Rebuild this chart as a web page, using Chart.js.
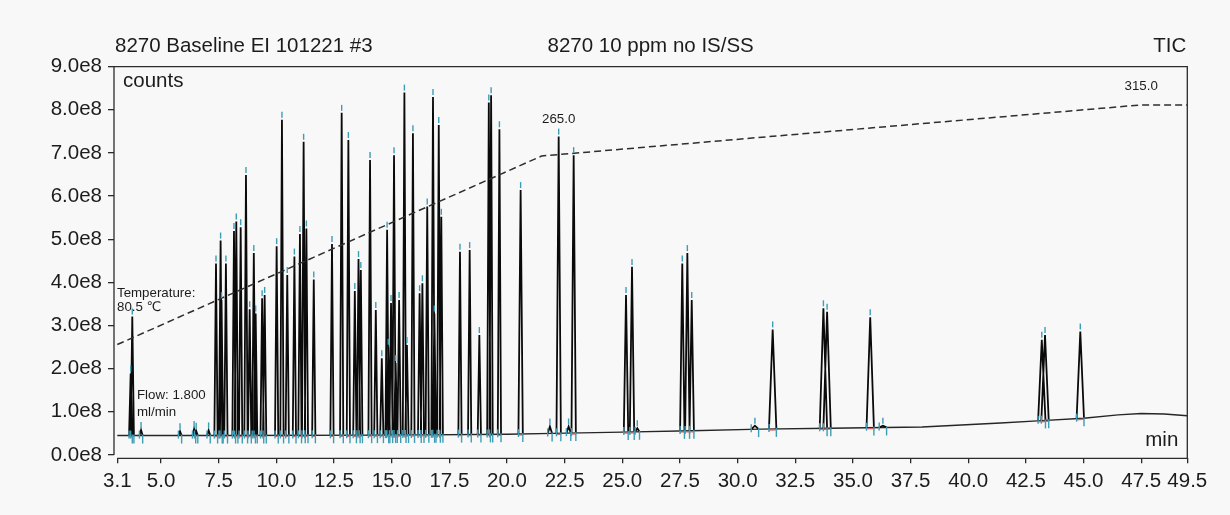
<!DOCTYPE html>
<html><head><meta charset="utf-8">
<script src="https://cdn.jsdelivr.net/npm/chart.js@4.4.1/dist/chart.umd.min.js"></script>
<style>html,body{margin:0;padding:0;background:#f8f8f8;}#wrap{position:relative;width:1230px;height:515px;}</style>
</head><body><div id="wrap"><canvas id="c"></canvas></div>
<script>
// ---------- data ----------
const xTickValues = [3.1,5.0,7.5,10.0,12.5,15.0,17.5,20.0,22.5,25.0,27.5,30.0,32.5,35.0,37.5,40.0,42.5,45.0,47.5,49.5];
const yTickValues = [0,1e8,2e8,3e8,4e8,5e8,6e8,7e8,8e8,9e8];
const peakTimes = [3.68,3.75,4.13,5.82,6.43,6.52,7.06,7.38,7.58,7.62,7.81,8.16,8.26,8.45,8.68,8.84,9.02,9.10,9.38,9.49,10.01,10.24,10.47,10.78,11.02,11.18,11.30,11.62,12.41,12.83,13.12,13.40,13.56,13.66,14.06,14.31,14.57,14.80,14.85,14.97,15.10,15.17,15.32,15.55,15.66,15.92,16.21,16.33,16.54,16.79,16.85,17.04,17.15,17.96,18.38,18.80,19.21,19.31,19.67,20.59,21.86,22.24,22.67,22.89,25.16,25.42,25.65,27.60,27.82,28.01,30.75,31.52,33.72,33.88,35.75,36.30,43.19,43.33,44.86];
const peakCounts = [1.89e8,3.21e8,0.58e8,0.55e8,0.60e8,0.56e8,0.57e8,4.44e8,4.97e8,3.59e8,4.44e8,5.19e8,5.41e8,5.28e8,6.49e8,3.38e8,4.68e8,3.28e8,3.63e8,3.71e8,4.84e8,7.77e8,4.17e8,4.60e8,5.12e8,7.26e8,5.25e8,4.07e8,4.89e8,7.93e8,7.30e8,3.80e8,4.54e8,4.29e8,6.84e8,3.36e8,2.24e8,5.22e8,2.51e8,3.52e8,6.95e8,2.13e8,3.59e8,8.40e8,2.55e8,7.46e8,3.75e8,3.98e8,5.76e8,8.30e8,3.28e8,7.65e8,5.52e8,4.71e8,4.75e8,2.78e8,8.17e8,8.34e8,7.55e8,6.14e8,0.66e8,7.38e8,0.66e8,6.95e8,3.71e8,4.36e8,0.62e8,4.44e8,4.68e8,3.59e8,0.68e8,2.91e8,3.40e8,3.32e8,3.19e8,0.68e8,2.67e8,2.78e8,2.86e8];
const baselineTimes = [3.1,8,15,20,22,25,28,31,34,38,41.4,43,45,46.5,47.5,48.5,49.5];
const baselineCounts = [0.45e8,0.45e8,0.46e8,0.48e8,0.50e8,0.53e8,0.56e8,0.60e8,0.62e8,0.65e8,0.74e8,0.79e8,0.85e8,0.93e8,0.96e8,0.95e8,0.91e8];
const tempTimes = [3.1,21.5,47.5,49.5];
const tempValues = [80.5,265.0,315.0,315.0];
const titleLeft = '8270 Baseline EI 101221 #3';
const titleCenter = '8270 10 ppm no IS/SS';
const titleRight = 'TIC';

// ---------- helpers (style) ----------
const FONT = '"Liberation Sans", Arial, "DejaVu Sans", sans-serif';
const TXT = '#1c1c1c';
function halfWidth(t){ return t < 20 ? 0.07 : (t < 29 ? 0.095 : 0.16); }
function baseAt(t){
  if (t <= baselineTimes[0]) return baselineCounts[0];
  for (let i=1;i<baselineTimes.length;i++){
    if (t <= baselineTimes[i]){
      const f=(t-baselineTimes[i-1])/(baselineTimes[i]-baselineTimes[i-1]);
      return baselineCounts[i-1]+f*(baselineCounts[i]-baselineCounts[i-1]);
    }
  }
  return baselineCounts[baselineCounts.length-1];
}
const peakPoints = [];
peakTimes.forEach((t,i)=>{
  const hw = halfWidth(t);
  peakPoints.push({x:t-hw,y:baseAt(t-hw)},{x:t,y:peakCounts[i]},{x:t+hw,y:baseAt(t+hw)},{x:t+hw,y:null});
});
const baselinePoints = baselineTimes.map((t,i)=>({x:t,y:baselineCounts[i]}));
const tempPoints = tempTimes.map((t,i)=>({x:t,y:tempValues[i]}));

const decor = {
  id:'decor',
  afterDatasetsDraw(chart){
    const {ctx, scales:{x,y}} = chart;
    ctx.save();
    ctx.lineCap='butt';
    ctx.strokeStyle='rgba(226,90,90,0.9)'; ctx.lineWidth=1.3;
    peakTimes.forEach((t,i)=>{
      if (peakCounts[i]-baseAt(t) < 0.3e8) return;
      const hw=halfWidth(t)*1.15;
      ctx.beginPath();
      ctx.moveTo(x.getPixelForValue(t-hw), y.getPixelForValue(baseAt(t-hw))+1);
      ctx.lineTo(x.getPixelForValue(t+hw), y.getPixelForValue(baseAt(t+hw))+1);
      ctx.stroke();
    });
    ctx.strokeStyle='#3c9db5'; ctx.lineWidth=1.4;
    peakTimes.forEach((t,i)=>{
      const hw=halfWidth(t);
      const px=x.getPixelForValue(t), py=y.getPixelForValue(peakCounts[i]);
      ctx.beginPath(); ctx.moveTo(px,py-8); ctx.lineTo(px,py-2); ctx.stroke();
      const xl=x.getPixelForValue(t-hw), yl=y.getPixelForValue(baseAt(t-hw));
      ctx.beginPath(); ctx.moveTo(xl,yl-5); ctx.lineTo(xl,yl+3); ctx.stroke();
      const xr=x.getPixelForValue(t+hw), yr=y.getPixelForValue(baseAt(t+hw));
      ctx.beginPath(); ctx.moveTo(xr,yr-1); ctx.lineTo(xr,yr+8); ctx.stroke();
    });
    ctx.restore();
  },
  afterDraw(chart){
    const {ctx, chartArea:a, scales:{x,y}} = chart;
    ctx.save();
    ctx.strokeStyle='#2b2b2b'; ctx.lineWidth=1.3;
    const y0=y.getPixelForValue(0), x0=x.getPixelForValue(xTickValues[0]);
    ctx.beginPath();
    ctx.moveTo(a.left,y0); ctx.lineTo(a.left,a.top); ctx.lineTo(a.right,a.top); ctx.lineTo(a.right,a.bottom); ctx.lineTo(x0,a.bottom);
    ctx.stroke();
    ctx.fillStyle=TXT; ctx.textBaseline='middle';
    ctx.font='20.5px '+FONT;
    ctx.textAlign='left'; ctx.fillText(titleLeft, a.left+1, 46);
    ctx.textAlign='center'; ctx.fillText(titleCenter, (a.left+a.right)/2, 46);
    ctx.textAlign='right'; ctx.fillText(titleRight, a.right-1, 46);
    ctx.textAlign='left'; ctx.fillText('counts', a.left+9, a.top+15);
    ctx.textAlign='right'; ctx.fillText('min', a.right-9, a.bottom-18);
    ctx.font='13.3px '+FONT; ctx.textAlign='left';
    ctx.fillText('Temperature:', a.left+3, 293);
    ctx.fillText('80.5 \u2103', a.left+3, 307.5);
    ctx.fillText('Flow: 1.800', a.left+23, 395.5);
    ctx.fillText('ml/min', a.left+23, 412);
    ctx.textAlign='center';
    ctx.fillText('265.0', x.getPixelForValue(22.24), 119.5);
    ctx.fillText('315.0', x.getPixelForValue(47.5), 86);
    ctx.restore();
  }
};

new Chart(document.getElementById('c'), {
  type:'line',
  data:{datasets:[
    {label:'Temperature', data:tempPoints, yAxisID:'y2', borderColor:'#2e2e2e', borderWidth:1.5, borderDash:[7,4], pointRadius:0, fill:false, tension:0},
    {label:'Peaks', data:peakPoints, yAxisID:'y', borderColor:'#0a0a0a', borderWidth:1.8, pointRadius:0, spanGaps:false, fill:false, tension:0},
    {label:'Baseline', data:baselinePoints, yAxisID:'y', borderColor:'#262626', borderWidth:1.4, pointRadius:0, fill:false, tension:0}
  ]},
  options:{
    responsive:true, maintainAspectRatio:false, animation:false, devicePixelRatio:1,
    layout:{padding:{top:66.7,right:42.7,left:0,bottom:0}},
    plugins:{legend:{display:false}, tooltip:{enabled:false}, title:{display:false}},
    scales:{
      x:{type:'linear', min:2.957, max:49.5,
         afterBuildTicks:s=>{s.ticks=xTickValues.map(v=>({value:v}));},
         afterFit:s=>{s.height=56.7;},
         ticks:{autoSkip:false, maxRotation:0, minRotation:0, padding:6, color:TXT, font:{family:FONT,size:20.5}, callback:v=>Number(v).toFixed(1)},
         grid:{drawOnChartArea:false, drawTicks:true, tickLength:5, color:'#2b2b2b', lineWidth:1.3},
         border:{display:false}},
      y:{type:'linear', position:'left', min:-7.7e6, max:9e8,
         afterBuildTicks:s=>{s.ticks=yTickValues.map(v=>({value:v}));},
         afterFit:s=>{s.width=114;},
         ticks:{padding:6, color:TXT, font:{family:FONT,size:20.5}, callback:v=>(v/1e8).toFixed(1)+'e8'},
         grid:{drawOnChartArea:false, drawTicks:true, tickLength:6, color:'#2b2b2b', lineWidth:1.3},
         border:{display:false}},
      y2:{type:'linear', display:false, min:-30.8, max:352.4}
    }
  },
  plugins:[decor]
});
</script></body></html>
